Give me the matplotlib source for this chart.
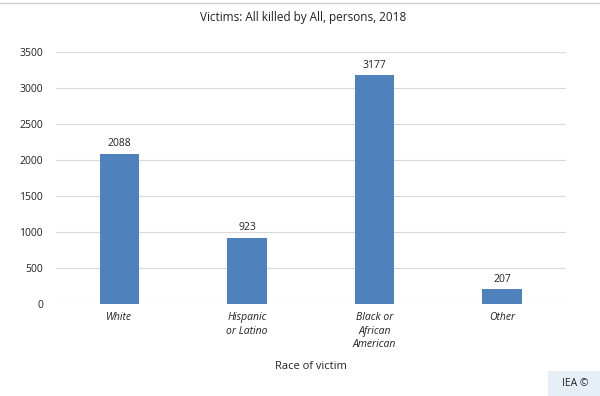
import matplotlib.pyplot as plt
from matplotlib.patches import Rectangle
from matplotlib.lines import Line2D

categories = ['White', 'Hispanic\nor Latino', 'Black or\nAfrican\nAmerican', 'Other']
victims = [2088, 923, 3177, 207]
yticks = [0, 500, 1000, 1500, 2000, 2500, 3000, 3500]

plt.rcParams['font.family'] = ['Open Sans', 'DejaVu Sans']

fig = plt.figure(figsize=(6, 3.96), dpi=100)
ax = fig.add_axes([0.0925, 0.232, 0.851, 0.637])

x = range(len(categories))
bars = ax.bar(x, victims, width=0.31, color='#4f81bd', zorder=3)
for xi, v in zip(x, victims):
    ax.text(xi, v + 60, str(v), ha='center', va='bottom', fontsize=7.5, color='#222222')

ax.set_xlim(-0.5, len(categories) - 0.5)
ax.set_ylim(0, 3500)
ax.set_yticks(yticks)
ax.set_xticks(list(x))
ax.set_xticklabels(categories, fontstyle='italic', fontsize=7.5, color='#222222', linespacing=1.3, va='top')
ax.tick_params(axis='y', labelsize=7.5, colors='#222222', length=0, pad=9)
ax.tick_params(axis='x', length=0, pad=6)
ax.grid(axis='y', color='#d9d9d9', linewidth=0.8, zorder=0)
for s in ax.spines.values():
    s.set_visible(False)

fig.text(0.505, 0.957, 'Victims: All killed by All, persons, 2018', ha='center', va='center', fontsize=8.5, color='#222222')
fig.text(0.518, 0.075, 'Race of victim', ha='center', va='center', fontsize=8, color='#222222')

# thin rule along the top
fig.add_artist(Line2D([0, 1], [0.992, 0.992], color='#d0d0d0', linewidth=1, transform=fig.transFigure))

# IEA badge
fig.add_artist(Rectangle((0.913, 0.0), 0.087, 0.062, transform=fig.transFigure, facecolor='#e6eef6', edgecolor='none'))
fig.text(0.958, 0.031, 'IEA ©', ha='center', va='center', fontsize=7.5, color='#222222')

fig.savefig('out.png', dpi=100, facecolor='white')
